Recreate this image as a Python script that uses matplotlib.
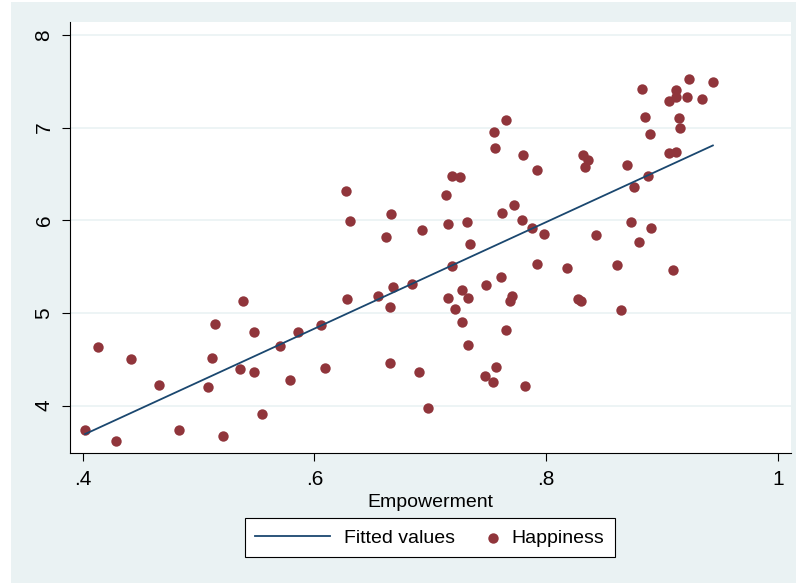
import numpy as np
import matplotlib
matplotlib.use('Agg')
from matplotlib import pyplot as plt
from matplotlib.patches import Rectangle
from matplotlib.legend_handler import HandlerPathCollection

# Empowerment index and happiness score per country.
empowerment = [
    0.402, 0.413, 0.429, 0.442, 0.466, 0.483, 0.508, 0.512, 0.514, 0.521,
    0.536, 0.538, 0.548, 0.548, 0.555, 0.570, 0.579, 0.586, 0.606, 0.609,
    0.628, 0.655, 0.665, 0.665, 0.668, 0.627, 0.631, 0.666, 0.662, 0.923,
    0.944, 0.883, 0.912, 0.912, 0.906, 0.922, 0.935, 0.885, 0.915, 0.916,
    0.890, 0.906, 0.912, 0.765, 0.755, 0.756, 0.780, 0.792, 0.832, 0.836,
    0.834, 0.870, 0.888, 0.876, 0.719, 0.726, 0.714, 0.772, 0.762, 0.779,
    0.788, 0.798, 0.715, 0.732, 0.734, 0.693, 0.843, 0.873, 0.891, 0.880,
    0.719, 0.792, 0.818, 0.861, 0.910, 0.684, 0.761, 0.748, 0.727, 0.715,
    0.733, 0.721, 0.727, 0.765, 0.733, 0.771, 0.769, 0.828, 0.830, 0.865,
    0.690, 0.757, 0.747, 0.754, 0.782, 0.698,
]
happiness = [
    3.741, 4.633, 3.622, 4.507, 4.220, 3.741, 4.198, 4.511, 4.878, 3.670,
    4.396, 5.133, 4.795, 4.360, 3.910, 4.641, 4.280, 4.795, 4.871, 4.407,
    5.154, 5.183, 5.068, 4.464, 5.284, 6.319, 5.992, 6.068, 5.820, 7.521,
    7.495, 7.413, 7.406, 7.333, 7.290, 7.333, 7.312, 7.118, 7.104, 6.992,
    6.928, 6.723, 6.734, 7.085, 6.949, 6.777, 6.701, 6.543, 6.708, 6.654,
    6.572, 6.597, 6.478, 6.359, 6.478, 6.470, 6.270, 6.168, 6.082, 6.003,
    5.917, 5.855, 5.957, 5.978, 5.744, 5.899, 5.838, 5.978, 5.920, 5.769,
    5.510, 5.529, 5.489, 5.518, 5.461, 5.316, 5.388, 5.302, 5.245, 5.159,
    5.165, 5.043, 4.906, 4.813, 4.655, 5.183, 5.129, 5.148, 5.126, 5.032,
    4.364, 4.414, 4.324, 4.252, 4.216, 3.975,
]

x_ticks = [0.4, 0.6, 0.8, 1.0]
x_tick_labels = ['.4', '.6', '.8', '1']
y_ticks = [4, 5, 6, 7, 8]

bg = '#EAF2F3'
navy = '#1A476F'
maroon = '#90353B'

plt.rcParams['font.family'] = ['Liberation Sans', 'DejaVu Sans']

x = np.array(empowerment)
y = np.array(happiness)
slope, intercept = np.polyfit(x, y, 1)
fit_x = np.array([x.min(), x.max()])
fit_y = intercept + slope * fit_x

fig = plt.figure(figsize=(7.96, 5.83), dpi=100, facecolor='white')
fig.patches.append(Rectangle((11 / 796, 0), 1, 581 / 583, transform=fig.transFigure,
                             facecolor=bg, edgecolor='none', zorder=-1))
ax = fig.add_axes([70 / 796, 129.7 / 583, 720.7 / 796, 431.3 / 583])
ax.set_facecolor('white')

line, = ax.plot(fit_x, fit_y, color=navy, linewidth=1.3, label='Fitted values', zorder=3)
pts = ax.scatter(x, y, s=56, color=maroon, linewidths=0, label='Happiness', zorder=2)

ax.set_xlim(0.389, 1.0112)
ax.set_ylim(3.486, 8.14)
ax.set_xticks(x_ticks)
ax.set_xticklabels(x_tick_labels)
ax.set_yticks(y_ticks)
ax.set_yticklabels([str(v) for v in y_ticks], rotation=90, va='center')
ax.tick_params(axis='both', direction='out', length=5.8, width=0.8,
               labelsize=15, pad=6)
ax.yaxis.grid(True, color=bg, linewidth=1.2)
ax.set_axisbelow(True)
for side in ['top', 'right']:
    ax.spines[side].set_visible(False)
for side in ['left', 'bottom']:
    ax.spines[side].set_linewidth(0.8)
ax.set_xlabel('Empowerment', fontsize=14, labelpad=4)


class DotAtEnd(HandlerPathCollection):
    # put the legend marker near the right end of its handle box
    def get_xdata(self, legend, xdescent, ydescent, width, height, fontsize):
        xdata = [-xdescent, -xdescent + width]
        return xdata, [-xdescent + width - 0.3 * fontsize]


leg = ax.legend(handles=[line, pts], ncol=2, loc='center',
                bbox_to_anchor=(430 / 796, 0.0775), bbox_transform=fig.transFigure,
                fontsize=14, frameon=True, fancybox=False, framealpha=1,
                edgecolor='black', handlelength=3.86, handletextpad=0.68,
                columnspacing=-1.6, borderpad=0.55, scatterpoints=1,
                handler_map={type(pts): DotAtEnd()})
leg.get_frame().set_linewidth(0.8)

fig.savefig('out.png', dpi=100, facecolor=fig.get_facecolor())
